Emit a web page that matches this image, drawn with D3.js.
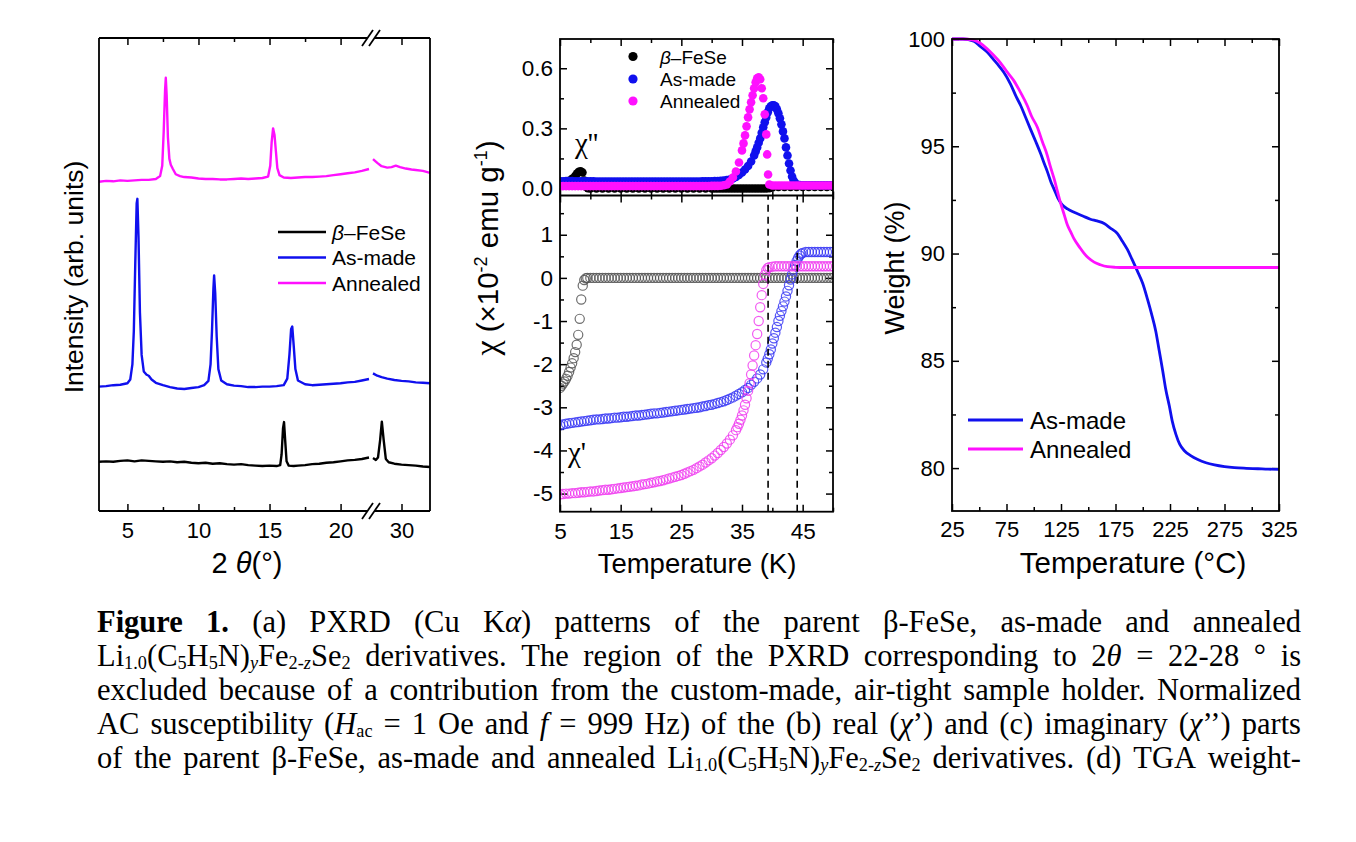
<!DOCTYPE html>
<html><head><meta charset="utf-8">
<script src="https://cdn.jsdelivr.net/npm/d3@7"></script>
<style>
body{margin:0;background:#fff;}
svg{display:block;background:#fff;}
</style></head>
<body>
<svg id="fig" width="1356" height="842"></svg>
<script>
// ---------------- DATA ----------------
// (a) PXRD, stacked intensities (arb. units), [2theta, I]
const xrdFeSeLeft = [[3,10.4],[3.5,10.5],[4,10.4],[4.5,10.6],[5,10.7],[5.5,10.5],[6,10.7],[6.5,10.6],[7,10.5],[7.5,10.4],[8,10.5],[8.5,10.3],[9,10.4],[9.5,10.2],[10,10.1],[10.5,10.2],[11,10.0],[11.5,10.1],[12,9.9],[12.5,9.8],[13,9.9],[13.5,9.7],[14,9.6],[14.5,9.5],[15,9.6],[15.5,9.5],[15.75,9.7],[15.85,12],[15.95,17.5],[16.02,18.8],[16.1,15],[16.2,10.5],[16.35,9.6],[16.7,9.5],[17,9.6],[17.5,9.7],[18,9.9],[18.5,10.0],[19,10.2],[19.5,10.3],[20,10.5],[20.5,10.7],[21,10.8],[21.5,11.0],[22,11.3]];
const xrdFeSeRight = [[28,11.2],[28.2,10.8],[28.35,11.3],[28.5,15],[28.62,18.9],[28.75,15],[28.9,11],[29.1,10.3],[29.5,10.0],[30,9.8],[30.5,9.7],[31,9.6],[31.5,9.4],[32,9.3]];
const xrdAsMadeLeft = [[3,26.3],[3.5,26.4],[4,26.6],[4.5,26.7],[5,27.0],[5.2,27.8],[5.35,31],[5.45,38],[5.55,52],[5.65,65],[5.7,66],[5.78,58],[5.88,42],[6.0,33],[6.15,29.5],[6.35,28.8],[6.5,28.6],[6.7,27.8],[7,27.1],[7.5,26.6],[8,26.2],[8.5,25.9],[9,25.8],[9.5,26.0],[10,26.2],[10.4,26.6],[10.7,27.5],[10.85,31],[10.95,38],[11.05,47],[11.1,49.8],[11.18,46],[11.28,37],[11.4,30],[11.6,27.6],[12,26.8],[12.5,26.5],[13,26.4],[13.5,26.2],[14,26.2],[14.5,26.3],[15,26.3],[15.5,26.4],[16,26.6],[16.25,28],[16.4,33],[16.52,38.5],[16.6,39],[16.7,35],[16.82,30],[17,27.6],[17.5,26.8],[18,26.6],[18.5,26.7],[19,26.8],[19.5,26.9],[20,27.0],[20.5,27.2],[21,27.3],[21.5,27.6],[22,27.9]];
const xrdAsMadeRight = [[28,29.1],[28.3,28.6],[28.6,28.3],[29,28.0],[29.5,27.7],[30,27.5],[30.5,27.4],[31,27.2],[31.5,27.1],[32,27.0]];
const xrdAnnealedLeft = [[3,69.6],[3.5,69.8],[4,69.7],[4.5,69.9],[5,69.8],[5.5,69.9],[6,70.0],[6.5,70.0],[7,70.2],[7.3,70.8],[7.45,73],[7.55,80],[7.65,89],[7.7,91.6],[7.76,88],[7.85,79],[7.95,74.5],[8.05,73.2],[8.2,72.3],[8.4,71.2],[8.7,70.8],[9,70.6],[9.5,70.5],[10,70.3],[10.5,70.2],[11,70.2],[11.5,70.1],[12,70.1],[12.5,70.2],[13,70.3],[13.5,70.2],[14,70.3],[14.5,70.4],[14.9,70.7],[15.05,73],[15.15,78],[15.25,80.9],[15.35,79.5],[15.45,76],[15.55,72.5],[15.7,71],[16,70.5],[16.5,70.4],[17,70.5],[17.5,70.6],[18,70.6],[18.5,70.7],[19,70.8],[19.5,71.0],[20,71.2],[20.5,71.4],[21,71.6],[21.5,71.9],[22,72.3]];
const xrdAnnealedRight = [[28,74.4],[28.3,73.6],[28.6,72.9],[29,72.6],[29.3,72.7],[29.6,73.0],[29.9,72.7],[30.3,72.4],[30.7,72.2],[31,72.1],[31.5,71.9],[32,71.5]];
const xrdTicksLeft = [5,10,15,20];
const xrdTicksRight = [30];
const xrdMinorLeft = [7.5,12.5,17.5];
const xrdLegend = ["β–FeSe","As-made","Annealed"];

// (c) chi'' (top), [T(K), value]
const chiImagFeSe = [[5,0.02],[5.5,0.025],[6,0.03],[6.5,0.038],[7,0.048],[7.5,0.062],[7.8,0.075],[8.1,0.083],[8.4,0.086],[8.7,0.08],[9,0.04],[9.3,0.008],[9.6,0.002],[10,0],[11,0],[12,0],[13,0],[14,0],[15,0],[16,0],[17,0],[18,0],[19,0],[20,0],[21,0],[22,0],[23,0],[24,0],[25,0],[26,0],[27,0],[28,0],[29,0],[30,0],[30.5,0],[31,0],[31.5,0],[32,0],[32.5,0],[33,0],[33.5,0],[34,0],[34.5,0],[35,0],[35.5,0],[36,0],[36.5,0],[37,0],[37.5,0],[38,0],[38.5,0],[39,0],[39.5,0.002],[40,0.005],[41,0.008],[42,0.008],[43,0.008],[44,0.008],[45,0.008],[46,0.008],[47,0.008],[48,0.008],[49,0.008],[50,0.008]];
const chiImagAsMade = [[5,0.036],[5.5,0.036],[6,0.037],[6.5,0.037],[7,0.037],[7.5,0.036],[8,0.036],[8.5,0.036],[9,0.036],[9.5,0.036],[10,0.036],[10.5,0.036],[11,0.035],[11.5,0.035],[12,0.035],[12.5,0.035],[13,0.035],[13.5,0.035],[14,0.035],[14.5,0.035],[15,0.035],[15.5,0.035],[16,0.035],[16.5,0.035],[17,0.035],[17.5,0.035],[18,0.035],[18.5,0.035],[19,0.035],[19.5,0.035],[20,0.035],[20.5,0.035],[21,0.035],[21.5,0.035],[22,0.035],[22.5,0.035],[23,0.035],[23.5,0.035],[24,0.035],[24.5,0.035],[25,0.035],[25.5,0.035],[26,0.035],[26.5,0.035],[27,0.035],[27.5,0.035],[28,0.035],[28.5,0.036],[29,0.036],[29.5,0.036],[30,0.036],[30.5,0.037],[31,0.037],[31.5,0.038],[32,0.04],[32.5,0.042],[33,0.045],[33.5,0.05],[34,0.058],[34.5,0.068],[35,0.08],[35.5,0.095],[36,0.112],[36.5,0.135],[37,0.165],[37.25,0.185],[37.5,0.205],[37.75,0.228],[38,0.25],[38.25,0.278],[38.5,0.305],[38.75,0.33],[39,0.355],[39.25,0.38],[39.5,0.4],[39.75,0.41],[40,0.415],[40.25,0.415],[40.5,0.41],[40.75,0.395],[41,0.375],[41.25,0.35],[41.5,0.32],[41.75,0.285],[42,0.25],[42.25,0.205],[42.5,0.165],[42.75,0.125],[43,0.09],[43.25,0.06],[43.5,0.04],[43.75,0.028],[44,0.02],[44.5,0.017],[45,0.016],[45.5,0.016],[46,0.016],[46.5,0.016],[47,0.016],[47.5,0.016],[48,0.016],[48.5,0.016],[49,0.016],[49.5,0.016],[50,0.016]];
const chiImagAnnealed = [[5,0.012],[5.5,0.012],[6,0.012],[6.5,0.012],[7,0.012],[7.5,0.012],[8,0.012],[8.5,0.012],[9,0.012],[9.5,0.012],[10,0.012],[10.5,0.012],[11,0.012],[11.5,0.012],[12,0.012],[12.5,0.012],[13,0.012],[13.5,0.012],[14,0.012],[14.5,0.012],[15,0.012],[15.5,0.012],[16,0.012],[16.5,0.012],[17,0.012],[17.5,0.012],[18,0.012],[18.5,0.012],[19,0.012],[19.5,0.012],[20,0.012],[20.5,0.012],[21,0.012],[21.5,0.012],[22,0.012],[22.5,0.012],[23,0.012],[23.5,0.012],[24,0.012],[24.5,0.012],[25,0.012],[25.5,0.012],[26,0.012],[26.5,0.012],[27,0.012],[27.5,0.012],[28,0.012],[28.5,0.012],[29,0.012],[29.5,0.012],[30,0.013],[30.5,0.013],[31,0.013],[31.5,0.014],[32,0.016],[32.5,0.02],[33,0.035],[33.5,0.055],[34,0.085],[34.5,0.13],[35,0.19],[35.25,0.225],[35.5,0.265],[35.75,0.31],[36,0.355],[36.25,0.395],[36.5,0.43],[36.75,0.465],[37,0.5],[37.25,0.53],[37.5,0.55],[37.75,0.555],[38,0.545],[38.25,0.5],[38.5,0.45],[38.75,0.37],[39,0.27],[39.15,0.17],[39.3,0.07],[39.5,0.02],[40,0.015],[40.5,0.015],[41,0.015],[41.5,0.015],[42,0.015],[42.5,0.015],[43,0.015],[43.5,0.015],[44,0.015],[44.5,0.015],[45,0.015],[45.5,0.015],[46,0.015],[46.5,0.015],[47,0.015],[47.5,0.015],[48,0.015],[48.5,0.015],[49,0.015],[49.5,0.015],[50,0.015]];

// (b) chi' (bottom), [T(K), value x1e-2 emu/g]
const chiRealFeSe = [[5,-2.55],[5.25,-2.5],[5.5,-2.45],[5.75,-2.4],[6,-2.34],[6.25,-2.27],[6.5,-2.18],[6.75,-2.08],[7,-1.98],[7.25,-1.86],[7.5,-1.72],[7.75,-1.55],[8,-1.32],[8.25,-0.95],[8.5,-0.5],[8.75,-0.18],[9,-0.05],[9.25,-0.01],[9.5,0],[10,0],[10.5,0],[11,0],[11.5,0],[12,0],[12.5,0],[13,0],[13.5,0],[14,0],[14.5,0],[15,0],[15.5,0],[16,0],[16.5,0],[17,0],[17.5,0],[18,0],[18.5,0],[19,0],[19.5,0],[20,0],[20.5,0],[21,0],[21.5,0],[22,0],[22.5,0],[23,0],[23.5,0],[24,0],[24.5,0],[25,0],[25.5,0],[26,0],[26.5,0],[27,0],[27.5,0],[28,0],[28.5,0],[29,0],[29.5,0],[30,0],[30.5,0],[31,0],[31.5,0],[32,0],[32.5,0],[33,0],[33.5,0],[34,0],[34.5,0],[35,0],[35.5,0],[36,0],[36.5,0],[37,0],[37.5,0],[38,0],[38.5,0],[39,0],[39.5,0],[40,0],[40.5,0],[41,0],[41.5,0],[42,0],[42.5,0],[43,0],[43.5,0],[44,0],[44.5,0],[45,0],[45.5,0],[46,0],[46.5,0],[47,0],[47.5,0],[48,0],[48.5,0],[49,0],[49.5,0],[50,0]];
const chiRealAsMade = [[5,-3.42],[5.5,-3.4],[6,-3.38],[6.5,-3.37],[7,-3.36],[7.5,-3.35],[8,-3.34],[8.5,-3.33],[9,-3.32],[9.5,-3.31],[10,-3.3],[10.5,-3.29],[11,-3.28],[11.5,-3.28],[12,-3.27],[12.5,-3.26],[13,-3.26],[13.5,-3.25],[14,-3.24],[14.5,-3.24],[15,-3.23],[15.5,-3.22],[16,-3.22],[16.5,-3.21],[17,-3.2],[17.5,-3.19],[18,-3.19],[18.5,-3.18],[19,-3.17],[19.5,-3.16],[20,-3.15],[20.5,-3.14],[21,-3.14],[21.5,-3.13],[22,-3.12],[22.5,-3.11],[23,-3.1],[23.5,-3.09],[24,-3.08],[24.5,-3.07],[25,-3.06],[25.5,-3.05],[26,-3.04],[26.5,-3.03],[27,-3.02],[27.5,-3.01],[28,-3.0],[28.5,-2.98],[29,-2.97],[29.5,-2.95],[30,-2.94],[30.5,-2.92],[31,-2.9],[31.5,-2.88],[32,-2.86],[32.5,-2.83],[33,-2.8],[33.5,-2.77],[34,-2.73],[34.5,-2.69],[35,-2.65],[35.5,-2.6],[36,-2.55],[36.5,-2.48],[37,-2.41],[37.5,-2.33],[38,-2.24],[38.5,-2.12],[39,-1.96],[39.25,-1.87],[39.5,-1.77],[39.75,-1.66],[40,-1.52],[40.25,-1.4],[40.5,-1.27],[40.75,-1.14],[41,-1.0],[41.25,-0.88],[41.5,-0.77],[41.75,-0.66],[42,-0.55],[42.25,-0.43],[42.5,-0.3],[42.75,-0.17],[43,-0.04],[43.25,0.08],[43.5,0.19],[43.75,0.3],[44,0.39],[44.25,0.46],[44.5,0.52],[44.75,0.56],[45,0.58],[45.5,0.6],[46,0.6],[46.5,0.6],[47,0.6],[47.5,0.6],[48,0.6],[48.5,0.6],[49,0.6],[49.5,0.6],[50,0.6]];
const chiRealAnnealed = [[5,-5.02],[5.5,-5.01],[6,-5.0],[6.5,-5.0],[7,-4.99],[7.5,-4.99],[8,-4.98],[8.5,-4.97],[9,-4.97],[9.5,-4.96],[10,-4.95],[10.5,-4.95],[11,-4.94],[11.5,-4.93],[12,-4.92],[12.5,-4.91],[13,-4.91],[13.5,-4.9],[14,-4.89],[14.5,-4.88],[15,-4.87],[15.5,-4.86],[16,-4.85],[16.5,-4.84],[17,-4.83],[17.5,-4.82],[18,-4.81],[18.5,-4.79],[19,-4.78],[19.5,-4.77],[20,-4.75],[20.5,-4.74],[21,-4.72],[21.5,-4.71],[22,-4.69],[22.5,-4.67],[23,-4.65],[23.5,-4.63],[24,-4.61],[24.5,-4.59],[25,-4.57],[25.5,-4.54],[26,-4.51],[26.5,-4.48],[27,-4.45],[27.5,-4.41],[28,-4.37],[28.5,-4.33],[29,-4.28],[29.5,-4.23],[30,-4.18],[30.5,-4.12],[31,-4.06],[31.5,-3.99],[32,-3.92],[32.5,-3.84],[33,-3.75],[33.5,-3.65],[34,-3.53],[34.25,-3.46],[34.5,-3.38],[34.75,-3.29],[35,-3.19],[35.25,-3.07],[35.5,-2.94],[35.75,-2.79],[36,-2.62],[36.25,-2.44],[36.5,-2.24],[36.75,-2.03],[37,-1.8],[37.25,-1.56],[37.5,-1.3],[37.75,-1.0],[38,-0.68],[38.25,-0.4],[38.5,-0.14],[38.75,0.07],[39,0.18],[39.25,0.23],[39.5,0.25],[40,0.26],[40.5,0.27],[41,0.27],[41.5,0.27],[42,0.27],[42.5,0.27],[43,0.27],[43.5,0.27],[44,0.27],[44.5,0.27],[45,0.27],[45.5,0.27],[46,0.27],[46.5,0.27],[47,0.27],[47.5,0.27],[48,0.27],[48.5,0.27],[49,0.27],[49.5,0.27],[50,0.27]];
const tcLines = [39.3, 44.1];
const chiTicksX = [5,15,25,35,45];
const chiMinorX = [10,20,30,40,50];
const chiTopTicks = [0,0.3,0.6];
const chiTopMinor = [0.15,0.45];
const chiBotTicks = [1,0,-1,-2,-3,-4,-5];
const chiBotMinor = [1.5,0.5,-0.5,-1.5,-2.5,-3.5,-4.5];

// (d) TGA, [T(°C), weight %]
const tgaAsMade = [[25,100],[35,100],[45,99.9],[51,99.65],[57,99.4],[63,99.05],[68,98.75],[72.5,98.45],[78.7,97.9],[84,97.3],[88,96.9],[92.5,96.35],[97,95.8],[102,95.2],[106.3,94.66],[110,94.15],[112.4,93.83],[116,93.3],[118.6,93.0],[122,92.6],[126,92.28],[131,92.08],[137,91.92],[145,91.75],[152,91.6],[158,91.52],[164.6,91.4],[170,91.2],[176.8,90.93],[181,90.6],[186,90.18],[190,89.75],[195,89.19],[200,88.6],[204.4,87.86],[208,87.2],[212,86.37],[215,85.5],[218.3,84.54],[221,83.7],[224.4,82.89],[227,82.2],[230.5,81.56],[234,81.1],[238.2,80.81],[244,80.58],[250.5,80.4],[258,80.25],[265.8,80.15],[275,80.07],[284,80.02],[295,79.99],[305.7,79.97],[315,79.95],[325,79.94]];
const tgaAnnealed = [[25,100],[35,100],[45,99.95],[51,99.8],[57,99.55],[63,99.25],[69.5,98.89],[75,98.5],[81.7,98.06],[88,97.5],[94,96.9],[98,96.4],[103.2,95.9],[108,95.2],[112.4,94.58],[115,94.1],[118.6,93.5],[122,92.85],[124.7,92.34],[128,91.8],[130.8,91.34],[134,91.0],[137,90.68],[142,90.3],[146,90.02],[150,89.8],[155.4,89.6],[161,89.48],[167.6,89.39],[175,89.36],[183,89.35],[200,89.35],[225,89.35],[250,89.35],[275,89.35],[300,89.35],[325,89.35]];
const tgaTicksX = [25,75,125,175,225,275,325];
const tgaMinorX = [50,100,150,200,250,300];
const tgaTicksY = [80,85,90,95,100];
const tgaMinorY = [82.5,87.5,92.5,97.5];
const tgaLegend = ["As-made","Annealed"];

// caption lines (words; {b:..} bold, {i:..} italic, {s:..} subscript, {si:..} italic subscript)
const captionLines = [
 ["{b:Figure}","{b:1.}","(a)","PXRD","(Cu","K{i:α})","patterns","of","the","parent","β-FeSe,","as-made","and","annealed"],
 ["Li{s:1.0}(C{s:5}H{s:5}N){si:y}Fe{s:2-}{si:z}Se{s:2}","derivatives.","The","region","of","the","PXRD","corresponding","to","2{i:θ}","=","22-28","°","is"],
 ["excluded","because","of","a","contribution","from","the","custom-made,","air-tight","sample","holder.","Normalized"],
 ["AC","susceptibility","({i:H}{s:ac}","=","1","Oe","and","{i:f}","=","999","Hz)","of","the","(b)","real","({i:χ}’)","and","(c)","imaginary","({i:χ}’’)","parts"],
 ["of","the","parent","β-FeSe,","as-made","and","annealed","Li{s:1.0}(C{s:5}H{s:5}N){si:y}Fe{s:2-}{si:z}Se{s:2}","derivatives.","(d)","TGA","weight-"]
];

// ---------------- DRAWING ----------------
const SANS = "'Liberation Sans', Arial, Helvetica, sans-serif";
const SERIF = "'Liberation Serif', 'Times New Roman', serif";
const BLUE = "#1010ee", MAG = "#ff10ff", BLK = "#000";
const svg = d3.select("#fig");

function styleAxis(a, fs){
  a.select(".domain").remove();
  a.selectAll("line").attr("stroke","#000").attr("stroke-width",1.5);
  a.selectAll("text").attr("font-size",fs).attr("font-family",SANS).attr("fill","#000");
  return a;
}
function axisAt(g, axis, tx, ty, fs){ return styleAxis(g.append("g").attr("transform",`translate(${tx},${ty})`).call(axis), fs||20); }

// ===== Panel (a) =====
(function(){
  const g = svg.append("g");
  const L=99, R=430, T=38, B=511, gapL=367.5, gapR=374.5;
  const xL = d3.scaleLinear([3,22],[99,369]);
  const xR = d3.scaleLinear([28,32],[373,430]);
  const y = d3.scaleLinear([0,100],[B,T]);
  const FS = 22;
  axisAt(g, d3.axisBottom(xL).tickValues(xrdTicksLeft).tickSize(-7).tickPadding(11).tickFormat(d3.format("d")), 0, B, FS);
  axisAt(g, d3.axisBottom(xR).tickValues(xrdTicksRight).tickSize(-7).tickPadding(11).tickFormat(d3.format("d")), 0, B, FS);
  axisAt(g, d3.axisBottom(xL).tickValues(xrdMinorLeft).tickSize(-4).tickFormat(""), 0, B);
  axisAt(g, d3.axisTop(xL).tickValues(xrdTicksLeft).tickSize(-7).tickFormat(""), 0, T);
  axisAt(g, d3.axisTop(xR).tickValues(xrdTicksRight).tickSize(-7).tickFormat(""), 0, T);
  axisAt(g, d3.axisTop(xL).tickValues(xrdMinorLeft).tickSize(-4).tickFormat(""), 0, T);

  const lineL = d3.line().x(d=>xL(d[0])).y(d=>y(d[1]));
  const lineR = d3.line().x(d=>xR(d[0])).y(d=>y(d[1]));
  const sets = [[xrdFeSeLeft,xrdFeSeRight,BLK],[xrdAsMadeLeft,xrdAsMadeRight,BLUE],[xrdAnnealedLeft,xrdAnnealedRight,MAG]];
  sets.forEach(([l,r,c])=>{
    g.append("path").attr("d",lineL(l)).attr("fill","none").attr("stroke",c).attr("stroke-width",2.4).attr("stroke-linejoin","round");
    g.append("path").attr("d",lineR(r)).attr("fill","none").attr("stroke",c).attr("stroke-width",2.4).attr("stroke-linejoin","round");
  });
  // frame with axis break
  const fr = g.append("g").attr("stroke","#000").attr("stroke-width",1.8).attr("fill","none");
  fr.append("path").attr("d",`M${L},${T}V${B}M${R},${T}V${B}M${L},${T}H${gapL}M${gapR},${T}H${R}M${L},${B}H${gapL}M${gapR},${B}H${R}`);
  [T,B].forEach(yy=>{
    fr.append("line").attr("x1",362).attr("y1",yy+8).attr("x2",373).attr("y2",yy-8);
    fr.append("line").attr("x1",369).attr("y1",yy+8).attr("x2",380).attr("y2",yy-8);
  });
  // legend
  const cols=[BLK,BLUE,MAG], ly=[232,257.5,283];
  xrdLegend.forEach((t,i)=>{
    g.append("line").attr("x1",278).attr("x2",326).attr("y1",ly[i]).attr("y2",ly[i]).attr("stroke",cols[i]).attr("stroke-width",2.6);
    const tx = g.append("text").attr("x",332).attr("y",ly[i]+7.5).attr("font-family",SANS).attr("font-size",21);
    if(i===0){ tx.append("tspan").attr("font-style","italic").text(t[0]); tx.append("tspan").text(t.slice(1)); }
    else tx.text(t);
  });
  // titles
  g.append("text").attr("transform","translate(83,277) rotate(-90)").attr("text-anchor","middle")
    .attr("font-family",SANS).attr("font-size",26.5).text("Intensity (arb. units)");
  const xt = g.append("text").attr("x",247).attr("y",573).attr("text-anchor","middle").attr("font-family",SANS).attr("font-size",29);
  xt.append("tspan").text("2 "); xt.append("tspan").attr("font-style","italic").text("θ"); xt.append("tspan").text("(°)");
})();

// ===== Panel (b,c) =====
(function(){
  const g = svg.append("g");
  const L=560, R=833, T=39, M=195.5, B=511.7;
  const x = d3.scaleLinear([5,50],[L,R]);
  const yt = d3.scaleLinear([-0.035,0.746],[M,T]);
  const yb = d3.scaleLinear([-5.42,1.91],[B,M]);
  const FS=22.5;
  axisAt(g, d3.axisBottom(x).tickValues(chiTicksX).tickSize(-7).tickPadding(11).tickFormat(d3.format("d")), 0, B, FS);
  axisAt(g, d3.axisBottom(x).tickValues(chiMinorX).tickSize(-4).tickFormat(""), 0, B);
  axisAt(g, d3.axisTop(x).tickValues(chiTicksX).tickSize(-7).tickFormat(""), 0, M);
  axisAt(g, d3.axisTop(x).tickValues(chiMinorX).tickSize(-4).tickFormat(""), 0, M);
  axisAt(g, d3.axisBottom(x).tickValues(chiTicksX).tickSize(-7).tickFormat(""), 0, M);
  axisAt(g, d3.axisBottom(x).tickValues(chiMinorX).tickSize(-4).tickFormat(""), 0, M);
  axisAt(g, d3.axisTop(x).tickValues(chiTicksX).tickSize(-7).tickFormat(""), 0, T);
  axisAt(g, d3.axisTop(x).tickValues(chiMinorX).tickSize(-4).tickFormat(""), 0, T);
  axisAt(g, d3.axisLeft(yt).tickValues(chiTopTicks).tickSize(-7).tickPadding(7).tickFormat(d3.format(".1f")), L, 0, FS);
  axisAt(g, d3.axisLeft(yt).tickValues(chiTopMinor).tickSize(-4).tickFormat(""), L, 0);
  axisAt(g, d3.axisRight(yt).tickValues(chiTopTicks).tickSize(-7).tickFormat(""), R, 0);
  axisAt(g, d3.axisRight(yt).tickValues(chiTopMinor).tickSize(-4).tickFormat(""), R, 0);
  axisAt(g, d3.axisLeft(yb).tickValues(chiBotTicks).tickSize(-7).tickPadding(7).tickFormat(d=>String(d)), L, 0, FS);
  axisAt(g, d3.axisLeft(yb).tickValues(chiBotMinor).tickSize(-4).tickFormat(""), L, 0);
  axisAt(g, d3.axisRight(yb).tickValues(chiBotTicks).tickSize(-7).tickFormat(""), R, 0);
  axisAt(g, d3.axisRight(yb).tickValues(chiBotMinor).tickSize(-4).tickFormat(""), R, 0);

  g.append("clipPath").attr("id","clipT").append("rect").attr("x",L).attr("y",T).attr("width",R-L).attr("height",M-T);
  g.append("clipPath").attr("id","clipB").append("rect").attr("x",L).attr("y",M).attr("width",R-L).attr("height",B-M);
  const top = g.append("g").attr("clip-path","url(#clipT)");
  [[chiImagFeSe,BLK],[chiImagAsMade,BLUE],[chiImagAnnealed,MAG]].forEach(([d,c])=>{
    top.append("g").selectAll("circle").data(d).join("circle")
      .attr("cx",p=>x(p[0])).attr("cy",p=>yt(p[1])).attr("r",4.3).attr("fill",c);
  });
  const bot = g.append("g").attr("clip-path","url(#clipB)");
  [[chiRealFeSe,"#555"],[chiRealAsMade,"#3a3af5"],[chiRealAnnealed,"#f040f0"]].forEach(([d,c])=>{
    bot.append("g").selectAll("circle").data(d).join("circle")
      .attr("cx",p=>x(p[0])).attr("cy",p=>yb(p[1])).attr("r",4.6)
      .attr("fill","none").attr("stroke",c).attr("stroke-width",1.2).attr("stroke-opacity",0.85);
  });
  // Tc dashed lines
  g.selectAll(".tc").data(tcLines).join("line")
    .attr("x1",d=>x(d)).attr("x2",d=>x(d)).attr("y1",B).attr("y2",M)
    .attr("stroke","#000").attr("stroke-width",1.6).attr("stroke-dasharray","7,5");
  // frame
  g.append("rect").attr("x",L).attr("y",T).attr("width",R-L).attr("height",B-T).attr("fill","none").attr("stroke","#000").attr("stroke-width",1.8);
  g.append("line").attr("x1",L).attr("x2",R).attr("y1",M).attr("y2",M).attr("stroke","#000").attr("stroke-width",1.8);
  // legend
  const cols=[BLK,BLUE,MAG], ly=[56.5,79,101];
  ["β–FeSe","As-made","Annealed"].forEach((t,i)=>{
    g.append("circle").attr("cx",633).attr("cy",ly[i]).attr("r",4.6).attr("fill",cols[i]);
    const tx = g.append("text").attr("x",660).attr("y",ly[i]+7).attr("font-family",SANS).attr("font-size",19);
    if(i===0){ tx.append("tspan").attr("font-style","italic").text("β"); tx.append("tspan").text("–FeSe"); }
    else tx.text(t);
  });
  g.append("text").attr("x",575).attr("y",153).attr("font-family",SERIF).attr("font-size",29).text("χ''");
  g.append("text").attr("x",568).attr("y",462).attr("font-family",SERIF).attr("font-size",29).text("χ'");
  // titles
  const yt2 = g.append("text").attr("transform","translate(498,248) rotate(-90)").attr("text-anchor","middle")
    .attr("font-family",SANS).attr("font-size",29.5);
  yt2.append("tspan").attr("font-family",SERIF).attr("font-size",34).text("χ");
  yt2.append("tspan").text(" (×10");
  yt2.append("tspan").attr("font-size",18).attr("dy",-11).text("-2");
  yt2.append("tspan").attr("dy",11).text(" emu g");
  yt2.append("tspan").attr("font-size",18).attr("dy",-11).text("-1");
  yt2.append("tspan").attr("dy",11).text(")");
  g.append("text").attr("x",697).attr("y",573).attr("text-anchor","middle").attr("font-family",SANS).attr("font-size",27.5).text("Temperature (K)");
})();

// ===== Panel (d) =====
(function(){
  const g = svg.append("g");
  const L=952, R=1279, T=39, B=511;
  const x = d3.scaleLinear([25,325],[L,R]);
  const y = d3.scaleLinear([78,100],[B,T]);
  const FS=22;
  axisAt(g, d3.axisBottom(x).tickValues(tgaTicksX).tickSize(-7).tickPadding(10).tickFormat(d3.format("d")), 0, B, FS);
  axisAt(g, d3.axisBottom(x).tickValues(tgaMinorX).tickSize(-4).tickFormat(""), 0, B);
  axisAt(g, d3.axisTop(x).tickValues(tgaTicksX).tickSize(-7).tickFormat(""), 0, T);
  axisAt(g, d3.axisTop(x).tickValues(tgaMinorX).tickSize(-4).tickFormat(""), 0, T);
  axisAt(g, d3.axisLeft(y).tickValues(tgaTicksY).tickSize(-7).tickPadding(7).tickFormat(d3.format("d")), L, 0, FS);
  axisAt(g, d3.axisLeft(y).tickValues(tgaMinorY).tickSize(-4).tickFormat(""), L, 0);
  axisAt(g, d3.axisRight(y).tickValues(tgaTicksY).tickSize(-7).tickFormat(""), R, 0);
  axisAt(g, d3.axisRight(y).tickValues(tgaMinorY).tickSize(-4).tickFormat(""), R, 0);
  const line = d3.line().x(d=>x(d[0])).y(d=>y(d[1])).curve(d3.curveMonotoneX);
  g.append("path").attr("d",line(tgaAsMade)).attr("fill","none").attr("stroke",BLUE).attr("stroke-width",2.8);
  g.append("path").attr("d",line(tgaAnnealed)).attr("fill","none").attr("stroke",MAG).attr("stroke-width",2.8);
  g.append("rect").attr("x",L).attr("y",T).attr("width",R-L).attr("height",B-T).attr("fill","none").attr("stroke","#000").attr("stroke-width",1.8);
  const cols=[BLUE,MAG], ly=[420,449];
  tgaLegend.forEach((t,i)=>{
    g.append("line").attr("x1",968).attr("x2",1023).attr("y1",ly[i]).attr("y2",ly[i]).attr("stroke",cols[i]).attr("stroke-width",2.8);
    g.append("text").attr("x",1030).attr("y",ly[i]+8.5).attr("font-family",SANS).attr("font-size",24).text(t);
  });
  g.append("text").attr("transform","translate(904,268) rotate(-90)").attr("text-anchor","middle")
    .attr("font-family",SANS).attr("font-size",27).text("Weight (%)");
  g.append("text").attr("x",1133).attr("y",573).attr("text-anchor","middle").attr("font-family",SANS).attr("font-size",29.5).text("Temperature (°C)");
})();

// ===== Caption (justified) =====
(function(){
  const g = svg.append("g");
  const FS = 30.5, left = 97, right = 1301;
  const bases = [632, 666, 700, 734, 768];
  const re = /\{(b|i|s|si):([^}]*)\}|([^{]+)/g;
  captionLines.forEach((words, li)=>{
    const nodes = words.map(w=>{
      const t = g.append("text").attr("y",bases[li]).attr("font-family",SERIF).attr("font-size",FS).attr("fill","#000");
      let m, shifted=false; re.lastIndex=0;
      while((m = re.exec(w))){
        const txt = m[3] ? m[3] : m[2]; const st = m[3] ? "" : m[1];
        const ts = t.append("tspan").text(txt);
        if(st==="b") ts.attr("font-weight","bold");
        if(st==="i"||st==="si") ts.attr("font-style","italic");
        const sub = (st==="s"||st==="si");
        if(sub){ ts.attr("font-size",FS*0.6); if(!shifted){ ts.attr("dy",FS*0.1); shifted=true; } }
        else if(shifted){ ts.attr("dy",-FS*0.1); shifted=false; }
      }
      return t;
    });
    const widths = nodes.map(n=>n.node().getComputedTextLength());
    const total = d3.sum(widths);
    const gap = (right-left-total)/(nodes.length-1);
    let cx = left;
    nodes.forEach((n,i)=>{ n.attr("x",cx); cx += widths[i]+gap; });
  });
})();
</script>
</body></html>
